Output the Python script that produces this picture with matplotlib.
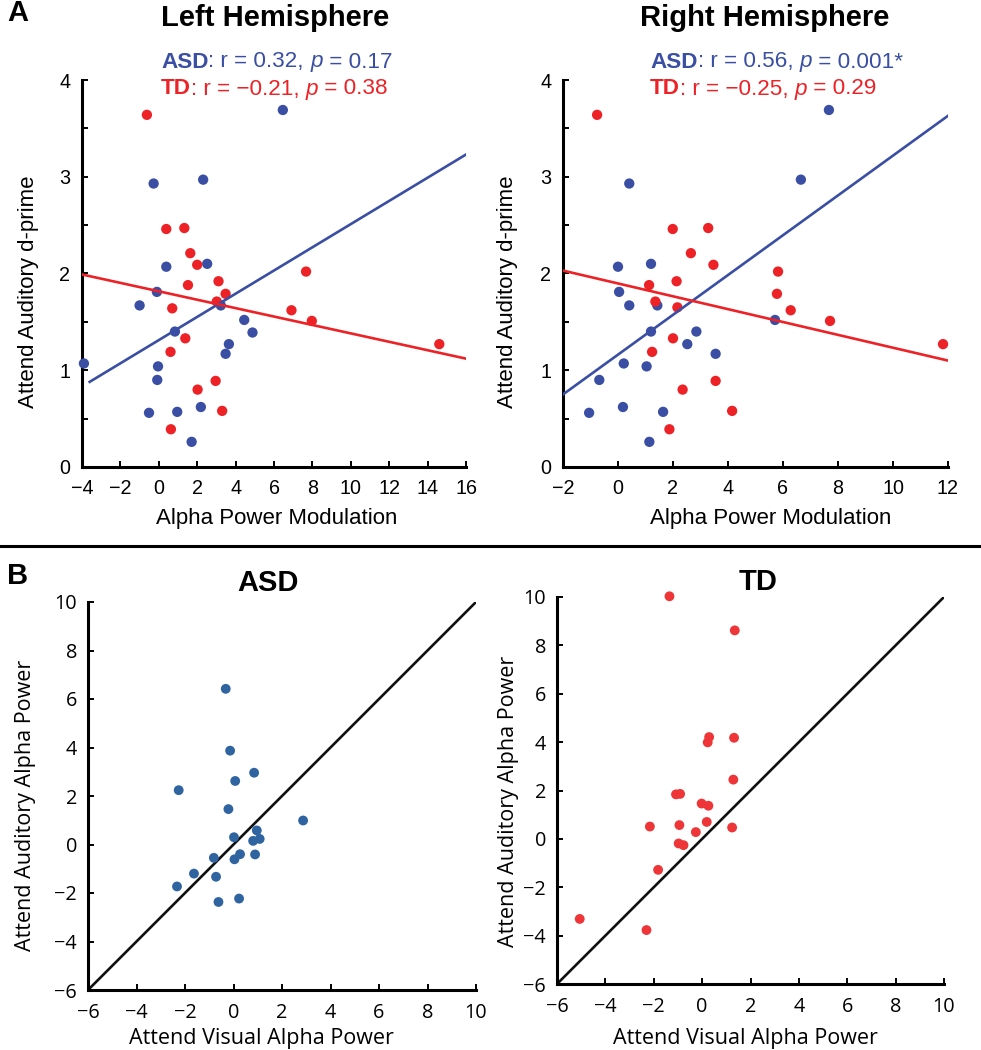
import numpy as np
import matplotlib
matplotlib.use('Agg')
import matplotlib.pyplot as plt
from matplotlib.lines import Line2D

plt.rcParams['font.family'] = ['Liberation Sans', 'DejaVu Sans']

# ===== data =====
# Panel A: d-prime (same subjects in both hemispheres)
asd_dprime = [3.69, 2.93, 2.97, 2.10, 2.07, 1.81, 1.67, 1.67, 1.52, 1.39,
              1.40, 1.27, 1.17, 1.07, 1.04, 0.90, 0.56, 0.57, 0.62, 0.26]
asd_left_mod = [6.46, -0.27, 2.31, 2.52, 0.39, -0.10, -1.00, 3.23, 4.45, 4.88,
                0.84, 3.65, 3.48, -3.90, -0.04, -0.08, -0.51, 0.96, 2.19, 1.71]
td_dprime = [3.64, 2.46, 2.47, 2.21, 2.09, 2.02, 1.88, 1.92, 1.79, 1.64,
             1.71, 1.62, 1.51, 1.33, 1.19, 1.27, 0.89, 0.80, 0.58, 0.39]
td_left_mod = [-0.62, 0.39, 1.33, 1.64, 2.00, 7.67, 1.52, 3.11, 3.48, 0.70,
               3.02, 6.91, 7.97, 1.38, 0.61, 14.61, 2.96, 2.02, 3.30, 0.63]

asd_right_x = [7.67, 0.41, 6.65, 1.20, 0.00, 0.04, 0.41, 1.43, 5.71, 1.20,
               2.85, 2.52, 3.55, 0.21, 1.04, -0.68, -1.05, 0.18, 1.64, 1.14]
asd_right_y = [3.69, 2.93, 2.97, 2.10, 2.07, 1.81, 1.67, 1.67, 1.52, 1.40,
               1.40, 1.27, 1.17, 1.07, 1.04, 0.90, 0.56, 0.62, 0.57, 0.26]
td_right_x = [-0.76, 1.99, 3.28, 2.65, 3.47, 5.82, 2.13, 1.13, 5.78, 1.36,
              2.16, 6.28, 7.71, 2.00, 1.24, 11.82, 3.55, 2.35, 4.15, 1.87]
td_right_y = [3.64, 2.46, 2.47, 2.21, 2.09, 2.02, 1.92, 1.88, 1.79, 1.71,
              1.65, 1.62, 1.51, 1.33, 1.19, 1.27, 0.89, 0.80, 0.58, 0.39]

# regression line end points
left_asd_fit_x, left_asd_fit_y = [-3.6, 16], [0.88, 3.23]
left_td_fit_x, left_td_fit_y = [-4, 16], [1.99, 1.12]
right_asd_fit_x, right_asd_fit_y = [-2, 12], [0.75, 3.63]
right_td_fit_x, right_td_fit_y = [-2, 12], [2.03, 1.10]

# Panel B: attend visual vs attend auditory alpha power
asd_visual = [-0.32, -0.14, 0.85, 0.07, -2.26, -0.21, 2.87, 0.96, 0.02, 0.81,
              1.08, -0.81, 0.04, 0.27, 0.89, -1.63, -0.72, -2.33, -0.62, 0.23]
asd_auditory = [6.42, 3.87, 2.96, 2.62, 2.24, 1.46, 0.99, 0.58, 0.30, 0.15,
                0.23, -0.55, -0.61, -0.40, -0.41, -1.20, -1.33, -1.73, -2.37, -2.23]
td_visual = [-1.35, 1.35, 0.29, 0.23, 1.32, 1.29, -1.08, -0.91, -0.02, 0.26,
             -2.16, -0.94, 0.19, -0.26, 1.24, -0.97, -0.77, -1.82, -5.06, -2.30]
td_auditory = [10.03, 8.62, 4.21, 3.99, 4.18, 2.45, 1.84, 1.86, 1.46, 1.37,
               0.51, 0.57, 0.70, 0.28, 0.47, -0.19, -0.26, -1.28, -3.31, -3.77]
identity_line = [-6, 10]

stats_left = [('ASD', '0.32', '0.17'), ('TD', '\u22120.21', '0.38')]
stats_right = [('ASD', '0.56', '0.001*'), ('TD', '\u22120.25', '0.29')]

BLUE = '#3A4FA3'
RED = '#EC2227'
BLUE_B = '#2F64A0'
RED_B = '#EE3538'
FONT_B = ['Open Sans', 'DejaVu Sans']   # panel B uses a humanist sans

W, H = 981, 1050
fig = plt.figure(figsize=(W / 100, H / 100), dpi=100)
renderer = fig.canvas.get_renderer()


def px_axes(left, top, right, bottom):
    return fig.add_axes([left / W, 1 - bottom / H, (right - left) / W, (bottom - top) / H])


def style(ax, fs, xpad, ypad):
    for s in ['top', 'right']:
        ax.spines[s].set_visible(False)
    for s in ['left', 'bottom']:
        ax.spines[s].set_linewidth(2.2)
    ax.tick_params(direction='in', length=4, width=1.4, labelsize=fs)
    ax.tick_params(axis='x', pad=xpad)
    ax.tick_params(axis='y', pad=ypad)
    ax.tick_params(which='minor', direction='in', length=4, width=1.4)


def rich_text(x_px, y_px, pieces, fs, color):
    # pieces: list of (text, weight, style), drawn one after another
    x = x_px
    for txt, wt, st in pieces:
        t = fig.text(x / W, 1 - y_px / H, txt, fontsize=fs, color=color,
                     fontweight=wt, fontstyle=st, ha='left', va='center')
        bb = t.get_window_extent(renderer)
        x += bb.width


# ---- Panel A ----
ax1 = px_axes(82, 80, 466, 467)
ax2 = px_axes(563, 80, 948, 467)
for ax, ax_x, ax_y, td_x, td_y, fits, xl in [
        (ax1, asd_left_mod, asd_dprime, td_left_mod, td_dprime,
         (left_asd_fit_x, left_asd_fit_y, left_td_fit_x, left_td_fit_y), (-4, 16)),
        (ax2, asd_right_x, asd_right_y, td_right_x, td_right_y,
         (right_asd_fit_x, right_asd_fit_y, right_td_fit_x, right_td_fit_y), (-2, 12))]:
    ax.scatter(ax_x, ax_y, s=55, color=BLUE, edgecolors='none', zorder=3, clip_on=False)
    ax.scatter(td_x, td_y, s=55, color=RED, edgecolors='none', zorder=3, clip_on=False)
    ax.plot(fits[0], fits[1], color=BLUE, lw=1.9, zorder=4)
    ax.plot(fits[2], fits[3], color=RED, lw=1.9, zorder=4)
    ax.set_xlim(*xl)
    ax.set_ylim(0, 4)
    ax.set_xticks(np.arange(xl[0], xl[1] + 1, 2))
    ax.set_xticklabels([str(v).replace('-', '\u2212') for v in np.arange(xl[0], xl[1] + 1, 2)])
    ax.set_yticks([0, 1, 2, 3, 4])
    ax.set_yticks([0.5, 1.5, 2.5, 3.5], minor=True)
    style(ax, 14.2, 9, 8.5)
    ax.set_xlabel('Alpha Power Modulation', fontsize=16, va='center')
    ax.set_ylabel('Attend Auditory d-prime', fontsize=16, va='center')

ax1.xaxis.set_label_coords(0.507, -0.132)
ax1.yaxis.set_label_coords(-0.14, 0.452)
ax2.xaxis.set_label_coords(0.539, -0.132)
ax2.yaxis.set_label_coords(-0.144, 0.452)

fig.text(275 / W, 1 - 18 / H, 'Left Hemisphere', fontsize=21, fontweight='bold',
         ha='center', va='center')
fig.text(765 / W, 1 - 18 / H, 'Right Hemisphere', fontsize=21, fontweight='bold',
         ha='center', va='center')

for x0, stats in [(161, stats_left), (650, stats_right)]:
    for (grp, r, p), yc, col in zip(stats, [62, 89], [BLUE, RED]):
        rich_text(x0, yc, [(grp, 'bold', 'normal'),
                           (': r = %s, ' % r, 'normal', 'normal'),
                           ('p', 'normal', 'italic'),
                           (' = %s' % p, 'normal', 'normal')], 16.2, col)

# ---- separator ----
fig.add_artist(Line2D([0, 1], [1 - 546 / H, 1 - 546 / H], color='black', lw=2.2,
                      transform=fig.transFigure))

# ---- Panel B ----
ax3 = px_axes(88, 602, 476, 990)
ax4 = px_axes(557, 597, 944, 984)
for ax, vx, vy, col in [(ax3, asd_visual, asd_auditory, BLUE_B),
                        (ax4, td_visual, td_auditory, RED_B)]:
    ax.plot(identity_line, identity_line, color='#111111', lw=1.9, zorder=2)
    ax.scatter(vx, vy, s=50, color=col, edgecolors='none', zorder=3, clip_on=False)
    ax.set_xlim(-6, 10)
    ax.set_ylim(-6, 10)
    ticks = np.arange(-6, 11, 2)
    ax.set_xticks(ticks)
    ax.set_yticks(ticks)
    lbls = [str(v).replace('-', '\u2212') for v in ticks]
    ax.set_xticklabels(lbls, family=FONT_B)
    ax.set_yticklabels(lbls, family=FONT_B)
    style(ax, 14.3, 9.5, 8)
    ax.set_xlabel('Attend Visual Alpha Power', fontsize=15.5, va='center', family=FONT_B)
    ax.set_ylabel('Attend Auditory Alpha Power', fontsize=15.5, va='center', family=FONT_B)

ax3.xaxis.set_label_coords(0.447, -0.124)
ax3.yaxis.set_label_coords(-0.161, 0.477)
ax4.xaxis.set_label_coords(0.486, -0.14)
ax4.yaxis.set_label_coords(-0.126, 0.473)

fig.text(268 / W, 1 - 583 / H, 'ASD', fontsize=21, fontweight='bold', ha='center', va='center')
fig.text(758 / W, 1 - 582 / H, 'TD', fontsize=21, fontweight='bold', ha='center', va='center')

fig.text(18 / W, 1 - 13 / H, 'A', fontsize=21, fontweight='bold', ha='center', va='center')
fig.text(18 / W, 1 - 576 / H, 'B', fontsize=21, fontweight='bold', ha='center', va='center')

fig.savefig('out.png', dpi=100, facecolor='white')
